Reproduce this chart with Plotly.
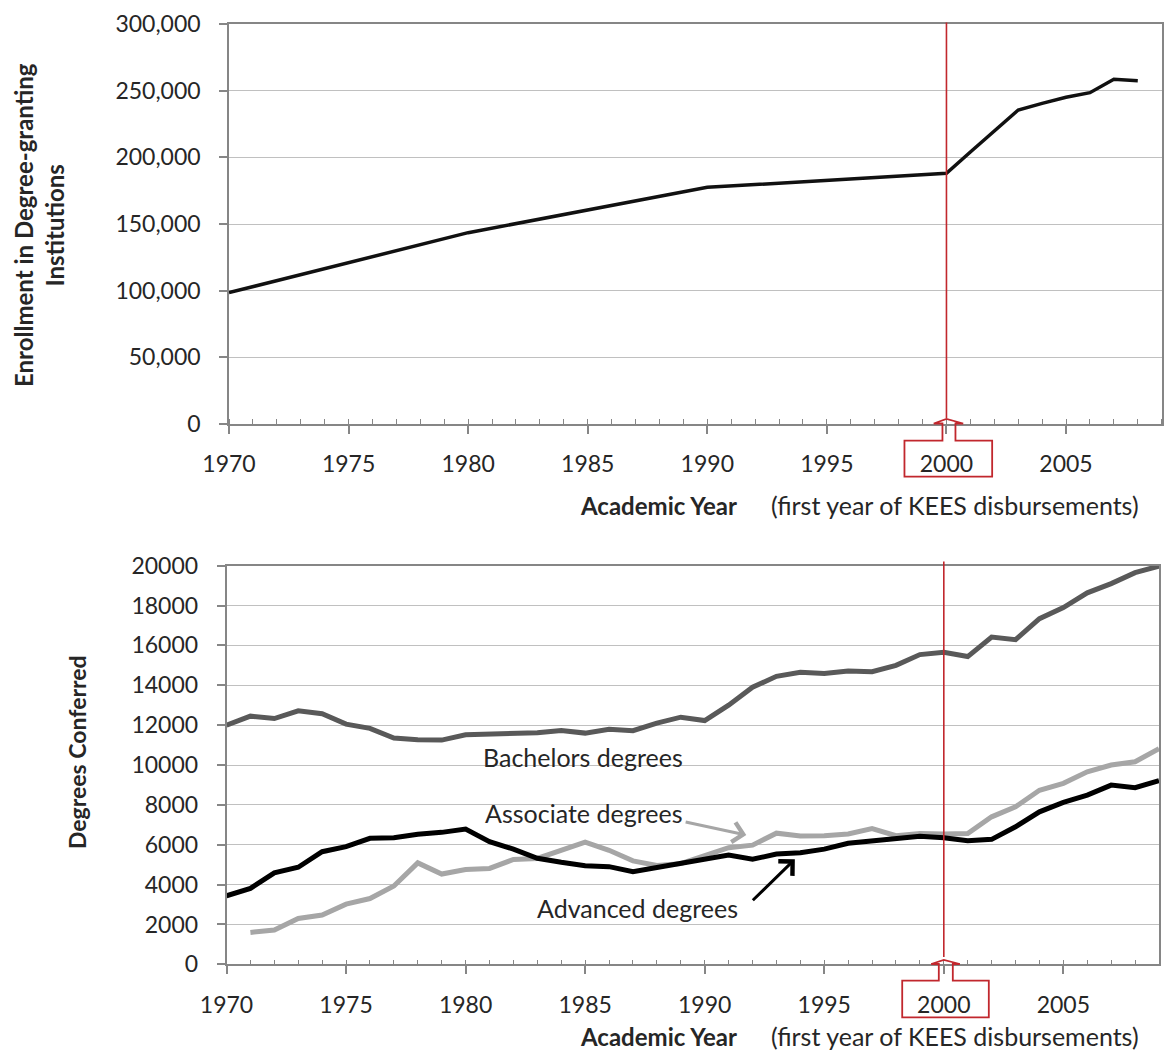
import plotly.graph_objects as go

# ---------------- data ----------------
enroll_years = [1970, 1980, 1990, 2000, 2001, 2002, 2003, 2004, 2005, 2006, 2007, 2008]
enrollment = [98500, 143500, 177500, 188000, 204000, 220000, 235500, 240500, 245000, 248500, 258500, 257500]

deg_years = list(range(1970, 2010))
bachelors = [12000, 12450, 12330, 12720, 12570, 12050, 11840, 11350, 11270, 11250,
             11520, 11560, 11610, 11620, 11730, 11600, 11790, 11720, 12100, 12400,
             12230, 13000, 13900, 14450, 14650, 14590, 14720, 14680, 15000, 15540,
             15660, 15440, 16420, 16290, 17340, 17900, 18640, 19100, 19650, 19980]
associate = [None, 1600, 1720, 2300, 2470, 3020, 3300, 3930, 5090, 4530,
             4760, 4810, 5260, 5310, 5700, 6130, 5720, 5190, 4960, 5050,
             5450, 5850, 5980, 6580, 6440, 6450, 6540, 6810, 6450, 6560,
             6540, 6560, 7400, 7900, 8730, 9080, 9660, 10000, 10160, 10820]
advanced = [3440, 3810, 4590, 4870, 5650, 5900, 6320, 6350, 6530, 6620,
            6790, 6150, 5780, 5320, 5120, 4950, 4900, 4650, 4860, 5060,
            5230, 5480, 5270, 5530, 5600, 5780, 6070, 6180, 6350, 6430,
            6350, 6200, 6270, 6900, 7650, 8120, 8490, 8990, 8860, 9210]

kees_year = 2000

# ---------------- styling ----------------
W, H = 1168, 1053
FONT = "Lato"
TXT = "#262626"
AXIS = "#868686"
GRID = "#c0c0c0"
RED = "#c1272d"
TICK_SIZE = 23
TEXT_SIZE = 25


def py(p):
    return 1 - p / H


fig = go.Figure()
fig.add_trace(go.Scatter(x=enroll_years, y=enrollment, mode="lines",
                         line=dict(color="#111111", width=3.5),
                         xaxis="x", yaxis="y", showlegend=False))
fig.add_trace(go.Scatter(x=deg_years, y=bachelors, mode="lines",
                         line=dict(color="#595959", width=5),
                         xaxis="x2", yaxis="y2", showlegend=False))
fig.add_trace(go.Scatter(x=deg_years, y=associate, mode="lines",
                         line=dict(color="#a6a6a6", width=5),
                         xaxis="x2", yaxis="y2", showlegend=False))
fig.add_trace(go.Scatter(x=deg_years, y=advanced, mode="lines",
                         line=dict(color="#000000", width=5),
                         xaxis="x2", yaxis="y2", showlegend=False))

xcommon = dict(range=[1970, 2009], tick0=1970, dtick=5, ticks="outside", ticklen=8,
               tickwidth=1.5, tickcolor=AXIS, showline=True, linecolor=AXIS, linewidth=1.5,
               mirror=True, showgrid=False, zeroline=False, automargin=False,
               tickfont=dict(family=FONT, size=TICK_SIZE, color=TXT), ticklabelstandoff=11,
               minor=dict(dtick=1, tick0=1970, ticks="inside", ticklen=5, tickwidth=1.2,
                          tickcolor=AXIS, showgrid=False))
ycommon = dict(ticks="outside", ticklen=8, tickwidth=1.5, tickcolor=AXIS, showline=True,
               linecolor=AXIS, linewidth=1.5, mirror=True, showgrid=True, gridcolor=GRID,
               gridwidth=1.3, zeroline=False, automargin=False,
               tickfont=dict(family=FONT, size=TICK_SIZE, color=TXT), ticklabelstandoff=14)

fig.update_layout(
    width=W, height=H, margin=dict(l=0, r=0, t=0, b=0, autoexpand=False),
    paper_bgcolor="white", plot_bgcolor="white",
    xaxis=dict(domain=[229 / W, 1161.7 / W], anchor="y", **xcommon),
    yaxis=dict(domain=[py(424), py(24)], anchor="x", range=[0, 300000], dtick=50000,
               tickformat=",", **ycommon),
    xaxis2=dict(domain=[226.5 / W, 1159 / W], anchor="y2", **xcommon),
    yaxis2=dict(domain=[py(964.3), py(565.7)], anchor="x2", range=[0, 20000], dtick=2000,
                tickformat="d", **ycommon),
)

# red vertical markers for the first KEES year
fig.add_shape(type="line", xref="x", yref="paper", x0=kees_year, x1=kees_year,
              y0=py(418), y1=py(22.5), line=dict(color=RED, width=1.6), layer="above")
fig.add_shape(type="line", xref="x2", yref="paper", x0=kees_year, x1=kees_year,
              y0=py(957), y1=py(561.5), line=dict(color=RED, width=1.6), layer="above")


def callout(xref, apex, head_base, rect_top, rect_bot, rl, rr, tl, tr, hl, hr):
    pts = [(rl, rect_bot), (rl, rect_top), (tl, rect_top), (tl, head_base), (hl, head_base),
           (0, apex), (hr, head_base), (tr, head_base), (tr, rect_top), (rr, rect_top),
           (rr, rect_bot)]
    path = "M " + " L ".join(f"{x},{py(y):.5f}" for x, y in pts) + " Z"
    fig.add_shape(type="path", xref=xref, yref="paper", xsizemode="pixel", xanchor=kees_year,
                  path=path, line=dict(color=RED, width=1.8), fillcolor="rgba(0,0,0,0)",
                  layer="above")


callout("x", 419, 423.5, 440.7, 476.7, -42, 45.7, -4, 9, -12.7, 16.7)
callout("x2", 960, 964, 980.7, 1017.3, -41.6, 45, -5, 9, -12.6, 16)

# axis titles as annotations
def ptext(text, x, y, size=TEXT_SIZE, bold=False, angle=0):
    if bold:
        text = "<b>" + text.replace("<br>", "</b><br><b>") + "</b>"
    fig.add_annotation(text=text, xref="paper", yref="paper", x=x / W, y=py(y),
                       xanchor="center", yanchor="middle", showarrow=False, textangle=angle,
                       font=dict(family=FONT, size=size, color=TXT), borderpad=0)


ptext("Enrollment in Degree-granting<br>Institutions", 39, 225, size=24, bold=True, angle=-90)
ptext("Degrees Conferred", 77, 752, size=23, bold=True, angle=-90)
for yy in (505, 1036):
    ptext("Academic Year", 658, yy, size=24, bold=True)
    ptext("(first year of KEES disbursements)", 955, yy, size=TEXT_SIZE)

# series labels
for text, x, y in [("Bachelors degrees", 1984.9, 10400),
                   ("Associate degrees", 1984.95, 7590),
                   ("Advanced degrees", 1987.2, 2820)]:
    fig.add_annotation(text=text, xref="x2", yref="y2", x=x, y=y, showarrow=False,
                       xanchor="center", yanchor="middle",
                       font=dict(family=FONT, size=TEXT_SIZE, color=TXT))

# arrows
fig.add_annotation(text="", xref="x2", yref="y2", axref="x2", ayref="y2",
                   x=1991.74, y=6486, ax=1989.14, ay=7153, showarrow=True,
                   arrowhead=4, arrowsize=1.3, arrowwidth=3, arrowcolor="#a6a6a6")
fig.add_annotation(text="", xref="x2", yref="y2", axref="x2", ayref="y2",
                   x=1993.77, y=5267, ax=1991.95, ay=3140, showarrow=True,
                   arrowhead=4, arrowsize=1.3, arrowwidth=3, arrowcolor="#000000")

fig.write_html("out.html", config={"displayModeBar": False},
               post_script="document.body.style.margin='0px';document.body.style.overflow='hidden';")
